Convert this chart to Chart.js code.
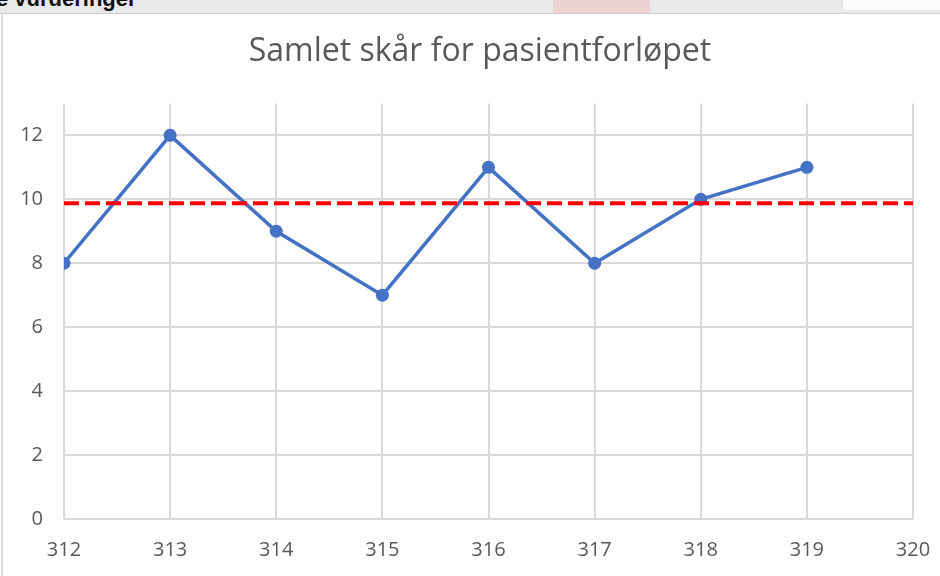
<!DOCTYPE html>
<html>
<head>
<meta charset="utf-8">
<script src="https://cdn.jsdelivr.net/npm/chart.js@4"></script>
<style>
  body { margin: 0; background: #ffffff; overflow: hidden; }
  #topStrip { position: absolute; left: 0; top: 0; width: 940px; height: 13px; background: #e9e9e9; border-bottom: 1px solid #cfcfcf; overflow: hidden; }
  #topText { position: absolute; left: -4px; top: -14px; font-family: "Liberation Sans", sans-serif; font-weight: bold; font-size: 22px; color: #111; }
  #pink { position: absolute; left: 553px; top: 0; width: 97px; height: 13px; background: #ecd3d3; }
  #whiteTab { position: absolute; left: 842px; top: 0; width: 98px; height: 10px; background: #fafafa; border-left: 1px solid #dddddd; }
  #frame { position: absolute; left: 1px; top: 14px; width: 939px; height: 562px; border-left: 2px solid #dcdcdc; box-sizing: border-box; }
  #chartBox { position: absolute; left: 0; top: 0; width: 940px; height: 576px; }
</style>
</head>
<body>
<div id="chartBox"><canvas id="js--chart"></canvas></div>
<div id="frame"></div>
<div id="topStrip"><span id="topText">e vurderinger</span><div id="pink"></div><div id="whiteTab"></div></div>
<script>
// data
const pasienter = [312, 313, 314, 315, 316, 317, 318, 319];
const skaar = [8, 12, 9, 7, 11, 8, 10, 11];
const snitt = 9.875;
const xTicks = [312, 313, 314, 315, 316, 317, 318, 319, 320];
const yTicks = [0, 2, 4, 6, 8, 10, 12];

const punkter = pasienter.map(function(p, i){
  return {x: p, y: skaar[i]};
});
const snittLinje = [
  {x: xTicks[0], y: snitt},
  {x: xTicks[xTicks.length - 1], y: snitt}
];

const tekstFarge = '#595959';
const gridFarge = '#d9d9d9';

const config = {
  type: 'line',
  data: {
    datasets: [
      {
        label: 'Samlet skår',
        data: punkter,
        borderColor: '#4472c4',
        backgroundColor: '#4472c4',
        borderWidth: 3.5,
        pointRadius: 6.5,
        pointBorderWidth: 0,
        tension: 0,
        order: 1
      },
      {
        label: 'Snitt',
        data: snittLinje,
        borderColor: '#ff0000',
        borderWidth: 4,
        borderDash: [15, 6],
        pointRadius: 0,
        order: 0
      }
    ]
  },
  options: {
    responsive: false,
    animation: false,
    // left padding shifts the title centre to match the original
    layout: { padding: { left: 20, right: 0, top: 0, bottom: 0 } },
    plugins: {
      legend: { display: false },
      tooltip: { enabled: false },
      title: {
        display: true,
        text: 'Samlet skår for pasientforløpet',
        color: tekstFarge,
        font: { family: 'Open Sans', size: 32, weight: 'normal' },
        padding: { top: 33, bottom: 32 }
      }
    },
    scales: {
      x: {
        type: 'linear',
        min: 312,
        max: 320,
        afterBuildTicks: function(scale){
          scale.ticks = xTicks.map(function(v){ return {value: v}; });
        },
        afterFit: function(scale){
          scale.height = 57;
          scale.paddingLeft = 0;
          scale.paddingRight = 27;
        },
        grid: { color: gridFarge, lineWidth: 2, drawTicks: false },
        border: { display: false },
        ticks: { color: tekstFarge, font: { family: 'Open Sans', size: 20 }, padding: 19, maxRotation: 0 }
      },
      y: {
        min: 0,
        max: 13,
        afterBuildTicks: function(scale){
          scale.ticks = yTicks.map(function(v){ return {value: v}; });
        },
        afterFit: function(scale){
          scale.width = 44;
          scale.paddingTop = 0;
          scale.paddingBottom = 0;
        },
        grid: { color: gridFarge, lineWidth: 2, drawTicks: false },
        border: { display: false },
        ticks: { color: tekstFarge, font: { family: 'Open Sans', size: 20 }, padding: 21 }
      }
    }
  }
};

const canvas = document.getElementById('js--chart');
canvas.width = 940;
canvas.height = 576;
const chart = new Chart(canvas, config);
</script>
</body>
</html>
